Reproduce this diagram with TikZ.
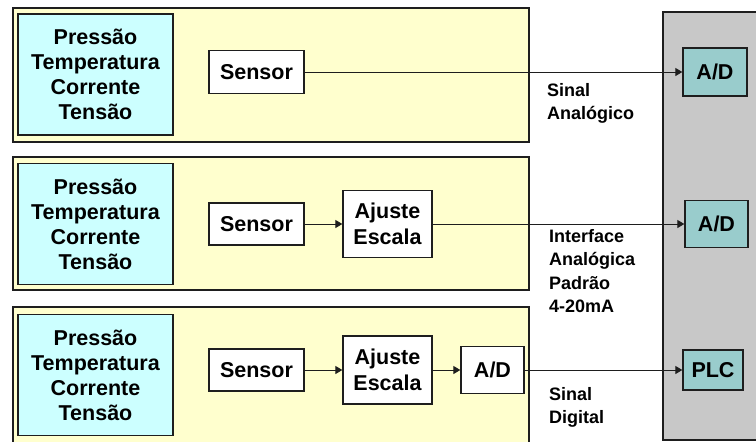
\documentclass[tikz,border=0pt]{standalone}
\usepackage{fontspec}
\setmainfont{Liberation Sans}
\usetikzlibrary{arrows.meta}
\definecolor{panelyellow}{RGB}{255,255,206}
\definecolor{quantcyan}{RGB}{204,255,255}
\definecolor{plcgray}{RGB}{200,200,200}
\definecolor{adteal}{RGB}{153,204,204}
\definecolor{edge}{RGB}{30,30,30}
\tikzset{
  panel/.style={draw=edge, line width=1.3pt, fill=panelyellow},
  quant/.style={draw=edge, line width=1.3pt, fill=quantcyan, inner sep=0pt,
    minimum width=155pt, minimum height=121pt, align=center,
    font=\fontsize{21.5}{25}\selectfont\bfseries},
  blockbox/.style={draw=edge, line width=1.3pt, fill=white, inner sep=0pt, align=center,
    font=\fontsize{21.5}{26}\selectfont\bfseries},
  tealbox/.style={draw=edge, line width=1.3pt, fill=adteal, inner sep=0pt, align=center,
    font=\fontsize{21.5}{26}\selectfont\bfseries},
  sig/.style={draw=edge, line width=1pt, -{Triangle[length=7pt,width=8pt]}},
  siglabel/.style={anchor=north west, inner sep=0pt, align=left,
    font=\fontsize{18}{23.5}\selectfont\bfseries}
}
\begin{document}
\begin{tikzpicture}[x=1pt,y=-1pt]
\useasboundingbox (0,0) rectangle (756,442);
\fill[white] (0,0) rectangle (756,442);
% right PLC panel
\draw[draw=edge, line width=1.3pt, fill=plcgray] (770,12) -- (663,12) -- (663,440) -- (770,440);
% yellow panels
\draw[panel] (13,8) rectangle (529,142);
\draw[panel] (13,157) rectangle (529,290);
\draw[panel] (529,460) -- (529,307) -- (13,307) -- (13,460);

% panel 1
\node[quant] (q1) at (95.5,74.5) {Pressão\\Temperatura\\Corrente\\Tensão};
\node[blockbox, minimum width=95pt, minimum height=43pt] (s1) at (256.5,72) {Sensor};
\node[tealbox, minimum width=64pt, minimum height=48pt] (ad1) at (715,72) {A/D};
\draw[sig] (s1.east) -- (ad1.west);
\node[siglabel] (l1) at (547,83) {Sinal\\Analógico};

% panel 2
\node[quant] (q2) at (95.5,224) {Pressão\\Temperatura\\Corrente\\Tensão};
\node[blockbox, minimum width=95pt, minimum height=42pt] (s2) at (256.5,224) {Sensor};
\node[blockbox, minimum width=89pt, minimum height=67pt] (aj2) at (387.5,224) {Ajuste\\Escala};
\node[tealbox, minimum width=63pt, minimum height=47pt] (ad2) at (716.5,224) {A/D};
\draw[sig] (s2.east) -- (aj2.west);
\draw[sig] (aj2.east) -- (ad2.west);
\node[siglabel] (l2) at (549,229) {Interface\\Analógica\\Padrão\\4-20mA};

% panel 3
\node[quant] (q3) at (95.5,375) {Pressão\\Temperatura\\Corrente\\Tensão};
\node[blockbox, minimum width=95pt, minimum height=42pt] (s3) at (256.5,370) {Sensor};
\node[blockbox, minimum width=89pt, minimum height=68pt] (aj3) at (387.5,370) {Ajuste\\Escala};
\node[blockbox, minimum width=63pt, minimum height=47pt] (ad3) at (492.5,370) {A/D};
\node[tealbox, minimum width=60pt, minimum height=40pt] (plc) at (713,370) {PLC};
\draw[sig] (s3.east) -- (aj3.west);
\draw[sig] (aj3.east) -- (ad3.west);
\draw[sig] (ad3.east) -- (plc.west);
\node[siglabel] (l3) at (549,387) {Sinal\\Digital};
\end{tikzpicture}
\end{document}
